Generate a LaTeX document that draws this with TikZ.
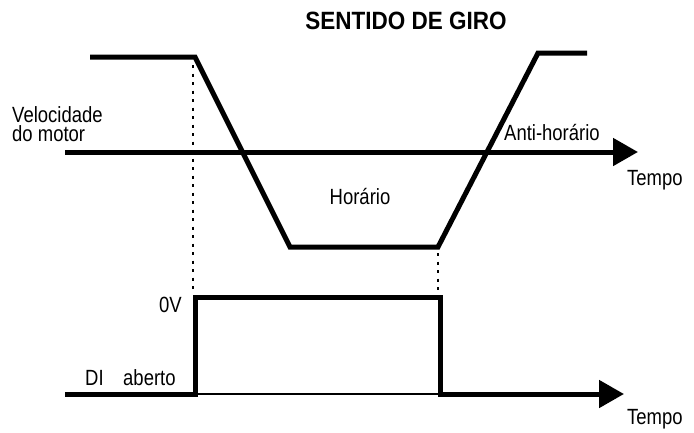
\documentclass[tikz,border=0pt]{standalone}
\usepackage{fontspec}
\setmainfont{Liberation Sans}[FakeStretch=0.84]
\newfontfamily\titlefont{Liberation Sans}[FakeStretch=0.9]
\usetikzlibrary{arrows.meta}
\begin{document}
\begin{tikzpicture}[x=1pt,y=-1pt,
  curve/.style={line width=5pt, line join=miter},
  axisarrow/.style={line width=5pt, line join=miter, -{Triangle[length=25pt,width=27pt]}},
  guide/.style={line width=2.5pt, dash pattern=on 3pt off 5.5pt},
  thinline/.style={line width=2pt},
  lbl/.style={inner sep=0pt, font=\fontsize{22}{19.5}\selectfont},
  titlelbl/.style={inner sep=0pt, font=\titlefont\bfseries\fontsize{25}{28}\selectfont}]
\useasboundingbox (0,0) rectangle (694,432);
% speed curve
\coordinate (s0) at (90,57);
\coordinate (s1) at (195,57);
\coordinate (s2) at (290,247);
\coordinate (s3) at (438,247);
\coordinate (s4) at (538,53);
\coordinate (s5) at (587,53);
\draw[curve] (s0) -- (s1) -- (s2) -- (s3) -- (s4) -- (s5);
% speed axis
\coordinate (va) at (65,152);
\coordinate (vt) at (638,152);
\draw[axisarrow] (va) -- (vt);
% digital input
\coordinate (da) at (65,394);
\coordinate (p0) at (195,394);
\coordinate (p1) at (195,297);
\coordinate (p2) at (440,297);
\coordinate (p3) at (440,394);
\coordinate (dt) at (624,394);
\draw[axisarrow] (da) -- (p0) -- (p1) -- (p2) -- (p3) -- (dt);
\draw[thinline] (p0) -- (p3);
% guides
\coordinate (g0) at (193,65);
\coordinate (g1) at (193,290);
\coordinate (g2) at (438,253);
\coordinate (g3) at (438,290);
\draw[guide] (g0) -- (g1);
\draw[guide] (g2) -- (g3);
% labels
\node[titlelbl, anchor=base] (title) at (406,29) {SENTIDO DE GIRO};
\node[lbl, align=left, anchor=west] (vel) at (12,124) {Velocidade\\do motor};
\node[lbl, anchor=base west] (anti) at (504,140) {Anti-horário};
\node[lbl, anchor=base west] (tempo1) at (627,185) {Tempo};
\node[lbl, anchor=base] (hor) at (360,204) {Horário};
\node[lbl, anchor=base east] (zero) at (182,312) {0V};
\node[lbl, anchor=base west] (di) at (85,385) {DI};
\node[lbl, anchor=base west] (ab) at (123,385) {aberto};
\node[lbl, anchor=base west] (tempo2) at (627,424) {Tempo};
\end{tikzpicture}
\end{document}
